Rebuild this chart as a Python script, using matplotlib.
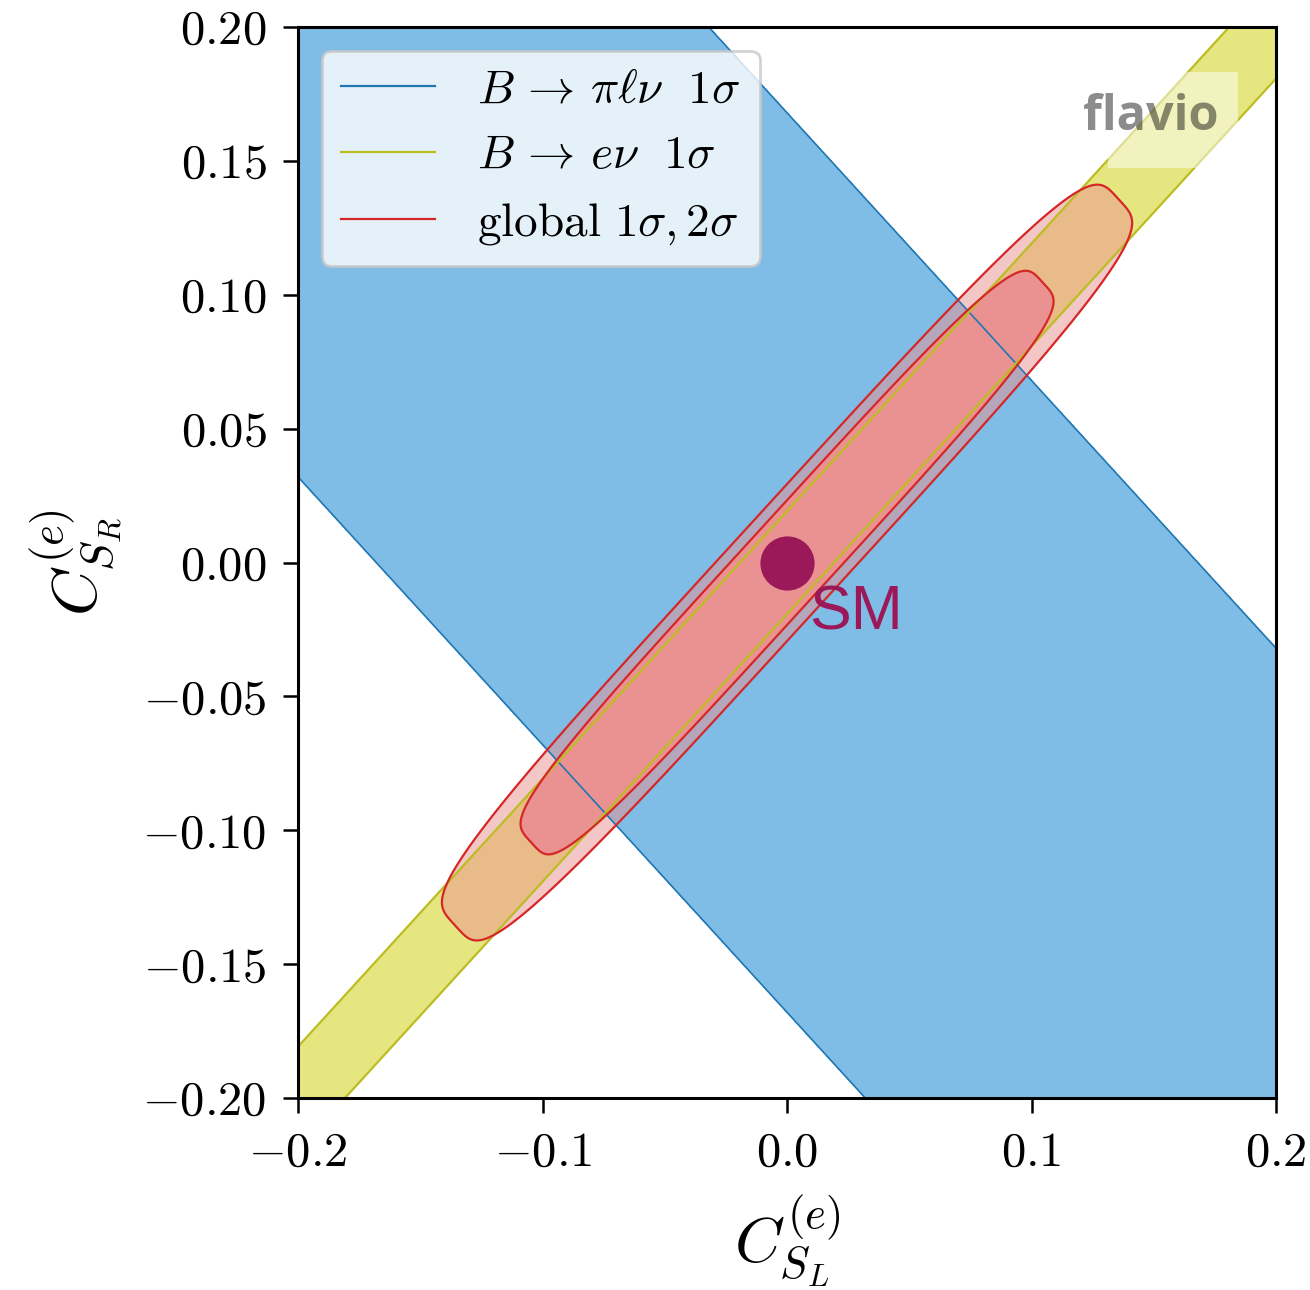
import numpy as np
import matplotlib.pyplot as plt
from matplotlib.lines import Line2D
from matplotlib.patches import Rectangle
from matplotlib.ticker import FuncFormatter

plt.rcParams['mathtext.fontset'] = 'cm'
plt.rcParams['font.family'] = 'serif'
plt.rcParams['font.serif'] = ['cmr10', 'DejaVu Serif']
plt.rcParams['axes.linewidth'] = 2.2

# plot range and ticks
x_range = [-0.2, 0.2]
y_range = [-0.2, 0.2]
x_ticks = [-0.2, -0.1, 0.0, 0.1, 0.2]
y_ticks = [-0.2, -0.15, -0.1, -0.05, 0.0, 0.05, 0.1, 0.15, 0.2]

# B -> pi l nu constrains C_SL + C_SR, B -> e nu constrains C_SR - C_SL
# 1 sigma half-widths of the two bands and the power of their chi2 profiles
pilnu_width = 0.168
pilnu_power = 3.8
enu_width = 0.0192
enu_power = 4.3

# Delta chi2 for 2D 1 sigma and 2 sigma regions
global_levels = [2.30, 6.18]

sm_point = (0.0, 0.0)

labels = [r'$B\,\to\,\pi\ell\nu\ \ 1\sigma$',
          r'$B\,\to\,e\nu\ \ 1\sigma$',
          r'$\mathrm{global}\ 1\sigma, 2\sigma$']
line_colors = ['#1f77b4', '#bcbd22', '#d62728']
fill_colors = ['#7fbce6', '#e6e680', '#ea9191']

# chi2 on a grid
xs = np.linspace(x_range[0], x_range[1], 801)
ys = np.linspace(y_range[0], y_range[1], 801)
X, Y = np.meshgrid(xs, ys)
chi2_pilnu = np.abs((X + Y) / pilnu_width) ** pilnu_power
chi2_enu = np.abs((Y - X) / enu_width) ** enu_power
chi2_global = chi2_pilnu + chi2_enu

fig = plt.figure(figsize=(13.1, 12.9), dpi=100)
ax = fig.add_axes([0.2275, 0.1488, 0.7466, 0.8302])

ax.contourf(X, Y, chi2_pilnu, levels=[-1, 1], colors=[fill_colors[0]])
ax.contourf(X, Y, chi2_enu, levels=[-1, 1], colors=[fill_colors[1]])
ax.contourf(X, Y, chi2_global, levels=global_levels, colors=[fill_colors[2]], alpha=0.5)
ax.contourf(X, Y, chi2_global, levels=[-1, global_levels[0]], colors=[fill_colors[2]])

ax.contour(X, Y, chi2_pilnu, levels=[1], colors=line_colors[0], linewidths=1.2)
ax.contour(X, Y, chi2_enu, levels=[1], colors=line_colors[1], linewidths=1.6)
ax.contour(X, Y, chi2_global, levels=global_levels, colors=line_colors[2], linewidths=1.6)

# SM point
ax.plot(sm_point[0], sm_point[1], 'o', ms=38, color='#9b1859', zorder=10)
ax.text(sm_point[0] + 0.009, sm_point[1] - 0.025, 'SM', color='#9b1859',
        fontsize=45, family='Liberation Sans', va='baseline', zorder=10)

# flavio watermark
ax.add_patch(Rectangle((0.828, 0.868), 0.133, 0.09, transform=ax.transAxes,
                       fc='white', ec='none', alpha=0.5, zorder=11))
ax.text(0.803, 0.904, 'flavio', transform=ax.transAxes, fontsize=35,
        family='Open Sans', weight='bold', color='k', alpha=0.45, zorder=12)

handles = [Line2D([], [], color=c, lw=1.6) for c in line_colors]
leg = ax.legend(handles, labels, loc='upper left', fontsize=34, framealpha=0.8,
                edgecolor='#c8c8c8', handletextpad=0.9)
leg.get_frame().set_linewidth(2)

ax.set_xlim(x_range)
ax.set_ylim(y_range)
ax.set_xticks(x_ticks)
ax.set_yticks(y_ticks)
ax.xaxis.set_major_formatter(FuncFormatter(lambda v, p: f'${v:.1f}$'))
ax.yaxis.set_major_formatter(FuncFormatter(lambda v, p: f'${v:.2f}$'))
ax.tick_params(length=10.8, width=1.8, labelsize=35)
ax.tick_params(axis='x', pad=13)
ax.tick_params(axis='y', pad=12)

ax.set_xlabel(r'$C_{S_L}^{(e)}$', fontsize=46, labelpad=12)
ax.set_ylabel(r'$C_{S_R}^{(e)}$', fontsize=46, labelpad=12)

fig.savefig('out.png', dpi=100)
